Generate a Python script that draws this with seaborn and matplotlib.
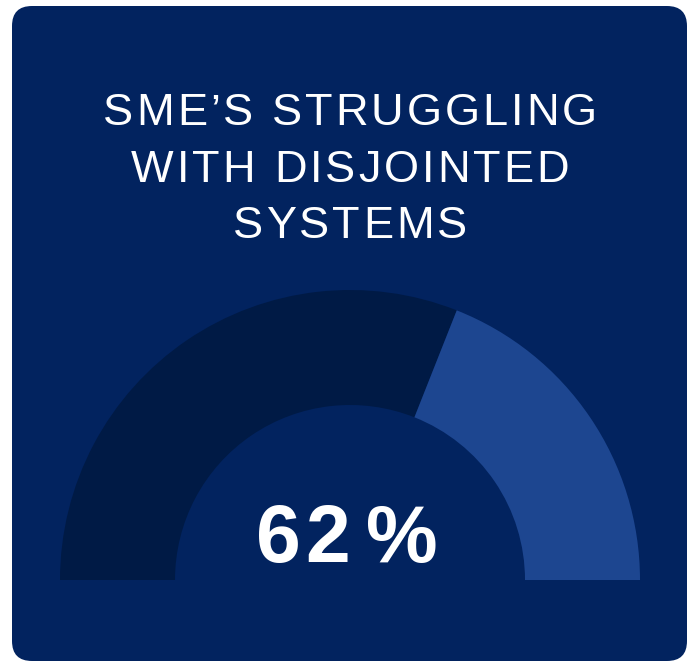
import matplotlib
matplotlib.use("Agg")
import matplotlib.pyplot as plt
import seaborn as sns
from matplotlib.patches import FancyBboxPatch
from matplotlib.font_manager import FontProperties

# Data
labels = ["Struggling", "Not struggling"]
values = [62, 38]
title_lines = ["SME\u2019S STRUGGLING", "WITH DISJOINTED", "SYSTEMS"]
center_label = "62%"

sns.set_theme(style="white")
plt.rcParams["font.family"] = ["Liberation Sans", "DejaVu Sans"]

W, H = 694, 662
dpi = 100
fig = plt.figure(figsize=(W / dpi, H / dpi), dpi=dpi, facecolor="white")

BG = "#02235f"
DARK = "#001a45"
LIGHT = "#1d4690"

# rounded background card
x0, y0, x1, y1 = 12, 6, 687, 661
r = 20
card = FancyBboxPatch(((x0 + r) / W, (H - y1 + r) / H),
                      (x1 - x0 - 2 * r) / W, (y1 - y0 - 2 * r) / H,
                      boxstyle=f"round,pad={r / W}",
                      transform=fig.transFigure, facecolor=BG, edgecolor="none",
                      mutation_aspect=W / H, zorder=-10)
fig.patches.append(card)

# gauge axes: center (350,580), radius 290 px
cx, cy, R = 350, 580, 290
ax = fig.add_axes([(cx - R) / W, (H - cy - R) / H, 2 * R / W, 2 * R / H])
ax.set_facecolor("none")
ax.patch.set_alpha(0)
total = sum(values)
ax.pie(values + [total], colors=[DARK, LIGHT, "none"], startangle=180,
       counterclock=False, radius=1.0,
       wedgeprops=dict(width=1 - 175 / 290, edgecolor="none", linewidth=0))
ax.set_xlim(-1, 1)
ax.set_ylim(-1, 1)
ax.set_aspect("equal")
ax.axis("off")

renderer = fig.canvas.get_renderer()


def tw(s, prop):
    w, h, d = renderer.get_text_width_height_descent(s, prop, ismath=False)
    return w


def tracked_text(s, xc, baseline, size, weight, tracking):
    prop = FontProperties(family=["Liberation Sans"], size=size, weight=weight)
    ref = tw("H", prop)
    n = len(s)
    if not isinstance(tracking, (list, tuple)):
        tracking = [tracking] * (n - 1)
    cum = [0]
    for t in tracking:
        cum.append(cum[-1] + t)
    total = tw(s, prop) + cum[-1]
    start = xc - total / 2
    for i, ch in enumerate(s):
        if ch == " ":
            continue
        off = tw(s[:i] + "H", prop) - ref if i > 0 else 0
        fig.text((start + off + cum[i]) / W, 1 - baseline / H, ch,
                 color="white", fontproperties=prop, ha="left", va="baseline")


# title
baselines = [125, 182, 238]
for line, b in zip(title_lines, baselines):
    tracked_text(line, 350, b, 32.5, "normal", 3.0)

tracked_text(center_label, 347, 562, 58, "bold", [5, 16])

fig.savefig("out.png", dpi=dpi, facecolor="white")
